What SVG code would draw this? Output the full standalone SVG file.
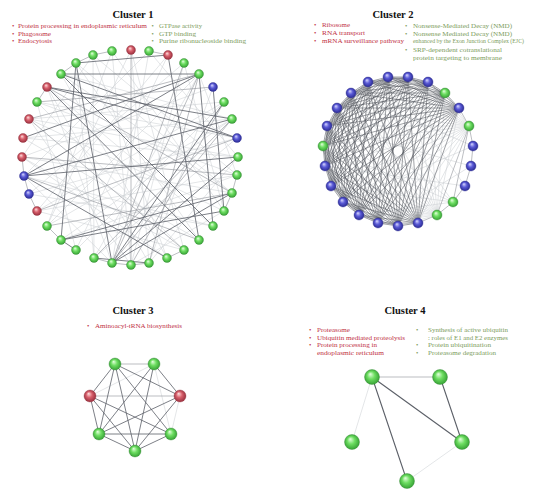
<svg xmlns="http://www.w3.org/2000/svg" width="550" height="497" viewBox="0 0 550 497">
<style>
.t{font-family:"Liberation Serif","Times New Roman",serif;font-size:6.6px}
.h{font-family:"Liberation Serif","Times New Roman",serif;font-size:10.5px;font-weight:bold;fill:#111;text-anchor:middle}
.r{fill:#c0303f}
.gr{fill:#7c9c5c}
.e1{stroke:#5c6068;stroke-width:.8;fill:none}
.e2{stroke:#8e9299;stroke-width:.6;fill:none}
.e3{stroke:#c9ccd1;stroke-width:.5;fill:none}
.ed{stroke:#50545c;stroke-width:.55;fill:none}
.ng{fill:url(#gG);stroke:#3b8e3b;stroke-width:.4}
.nb{fill:url(#gB);stroke:#34349a;stroke-width:.4}
.nr{fill:url(#gR);stroke:#9a3a44;stroke-width:.4}
</style>
<defs>
<radialGradient id="gG" cx="50%" cy="50%" r="55%" fx="38%" fy="30%"><stop offset="0" stop-color="#e6ffe0"/><stop offset=".45" stop-color="#6ede62"/><stop offset="1" stop-color="#2f9a2f"/></radialGradient>
<radialGradient id="gB" cx="50%" cy="50%" r="55%" fx="38%" fy="30%"><stop offset="0" stop-color="#d8d8ff"/><stop offset=".45" stop-color="#5a5ad6"/><stop offset="1" stop-color="#24248a"/></radialGradient>
<radialGradient id="gR" cx="50%" cy="50%" r="55%" fx="38%" fy="30%"><stop offset="0" stop-color="#ffe0e0"/><stop offset=".45" stop-color="#d8606c"/><stop offset="1" stop-color="#902838"/></radialGradient>
</defs>
<rect width="550" height="497" fill="#fff"/>

<!-- Texts -->
<g id="text1">
<text class="h" x="133" y="18">Cluster 1</text>
<text class="t r" x="12" y="28.3">•</text><text class="t r" x="18" y="28.3" textLength="129" lengthAdjust="spacingAndGlyphs">Protein processing in endoplasmic reticulum</text>
<text class="t r" x="12" y="35.7">•</text><text class="t r" x="18" y="35.7" textLength="33" lengthAdjust="spacingAndGlyphs">Phagosome</text>
<text class="t r" x="12" y="43.3">•</text><text class="t r" x="18" y="43.3" textLength="34" lengthAdjust="spacingAndGlyphs">Endocytosis</text>
<text class="t gr" x="151.5" y="28.3">•</text><text class="t gr" x="159" y="28.3" textLength="43" lengthAdjust="spacingAndGlyphs">GTPase activity</text>
<text class="t gr" x="151.5" y="35.7">•</text><text class="t gr" x="159" y="35.7" textLength="37" lengthAdjust="spacingAndGlyphs">GTP binding</text>
<text class="t gr" x="151.5" y="43.3">•</text><text class="t gr" x="159" y="43.3" textLength="87" lengthAdjust="spacingAndGlyphs">Purine ribonucleoside binding</text>
</g>
<g id="text2">
<text class="h" x="393" y="18">Cluster 2</text>
<text class="t r" x="314" y="27.3">•</text><text class="t r" x="322" y="27.3" textLength="28" lengthAdjust="spacingAndGlyphs">Ribosome</text>
<text class="t r" x="314" y="34.7">•</text><text class="t r" x="322" y="34.7" textLength="43" lengthAdjust="spacingAndGlyphs">RNA transport</text>
<text class="t r" x="314" y="42.7">•</text><text class="t r" x="322" y="42.7" textLength="82" lengthAdjust="spacingAndGlyphs">mRNA surveillance pathway</text>
<text class="t gr" x="405" y="28.3">•</text><text class="t gr" x="413" y="28.3" textLength="99" lengthAdjust="spacingAndGlyphs">Nonsense-Mediated Decay (NMD)</text>
<text class="t gr" x="405" y="35.7">•</text><text class="t gr" x="413" y="35.7" textLength="99" lengthAdjust="spacingAndGlyphs">Nonsense Mediated Decay (NMD)</text>
<text class="t gr" x="413" y="43.3" textLength="111" lengthAdjust="spacingAndGlyphs">enhanced by the Exon Junction Complex (EJC)</text>
<text class="t gr" x="405" y="52.3">•</text><text class="t gr" x="413" y="52.3" textLength="89" lengthAdjust="spacingAndGlyphs">SRP-dependent cotranslational</text>
<text class="t gr" x="413" y="60" textLength="89" lengthAdjust="spacingAndGlyphs">protein targeting to membrane</text>
</g>
<g id="text3">
<text class="h" x="133" y="314.3">Cluster 3</text>
<text class="t r" x="87" y="328.3">•</text><text class="t r" x="95" y="328.3" textLength="87" lengthAdjust="spacingAndGlyphs">Aminoacyl-tRNA biosynthesis</text>
</g>
<g id="text4">
<text class="h" x="405" y="314.3">Cluster 4</text>
<text class="t r" x="309" y="332.3">•</text><text class="t r" x="317" y="332.3" textLength="33" lengthAdjust="spacingAndGlyphs">Proteasome</text>
<text class="t r" x="309" y="340">•</text><text class="t r" x="317" y="340" textLength="88" lengthAdjust="spacingAndGlyphs">Ubiquitin mediated proteolysis</text>
<text class="t r" x="309" y="347.3">•</text><text class="t r" x="317" y="347.3" textLength="60" lengthAdjust="spacingAndGlyphs">Protein processing in</text>
<text class="t r" x="317" y="355" textLength="67" lengthAdjust="spacingAndGlyphs">endoplasmic reticulum</text>
<text class="t gr" x="416" y="332.3">•</text><text class="t gr" x="428" y="332.3" textLength="80" lengthAdjust="spacingAndGlyphs">Synthesis of active ubiquitin</text>
<text class="t gr" x="428" y="340" textLength="80" lengthAdjust="spacingAndGlyphs">: roles of E1 and E2 enzymes</text>
<text class="t gr" x="416" y="347.3">•</text><text class="t gr" x="428" y="347.3" textLength="63" lengthAdjust="spacingAndGlyphs">Protein ubiquitination</text>
<text class="t gr" x="416" y="355">•</text><text class="t gr" x="428" y="355" textLength="68" lengthAdjust="spacingAndGlyphs">Proteasome degradation</text>
</g>

<!-- Connectors -->
<g id="connectors">
<g id="edges1">
<path class="e3" d="M93,55L237,175M93,55L167,258M93,55L94,258M112,51L131,265M112,51L224,211M131,50L149,263M131,50L47,226M149,51L112,263M149,51L24,176M168,55L76,250M184,63L131,265M184,63L29,194M199,74L94,258M199,74L47,226M213,87L22,157M213,87L149,263M224,102L37,211M224,102L29,119M232,119L61,240M232,119L23,138M237,138L29,194M237,138L94,258M238,157L23,138M238,157L149,263M237,175L37,102M237,175L61,240M232,193L22,157M232,193L61,74M224,211L29,119M224,211L131,265M213,226L47,87M213,226L24,176M199,240L23,138M199,240L76,63M184,250L37,102M184,250L37,211M167,258L61,74M167,258L22,157M149,263L47,87M131,265L29,119M112,263L24,176M94,258L76,63M76,250L37,102M76,250L224,102M47,226L232,119M37,211L237,175M29,194L213,226M22,157L184,250M29,119L238,157M37,102L237,138M76,63L232,193M61,74L232,119M131,50L184,250M149,51L238,157M184,63L224,211M93,55L22,157M112,51L47,226M168,55L37,211M199,74L237,175M47,87L112,263"/>
<path class="e2" d="M112,263L184,63M112,263L199,74M112,263L232,119M131,265L224,102M149,263L199,74M94,258L232,119M184,250L29,119M199,240L24,176M37,211L237,138M47,226L232,193M37,102L213,87M29,119L199,74M22,157L237,175M131,50L131,265M47,87L232,193M76,63L93,55M61,74L76,63M47,87L37,102M37,211L29,194M29,194L24,176M24,176L22,157M237,175L232,193M232,193L224,211M131,265L149,263M112,263L131,265M94,258L112,263M184,250L167,258M61,240L47,226M93,55L112,51M149,51L168,55"/>
<path class="e1" d="M76,63L168,55M61,74L199,74M61,74L237,138M61,74L213,226M47,87L199,240M47,87L232,119M47,87L237,138M76,63L112,263M76,63L61,240M23,138L199,74M199,74L213,226M213,87L224,211M168,55L199,240M24,176L232,119M24,176L167,258M61,240L232,193M61,240L224,211M112,263L224,102M112,263L238,157M112,263L232,193M94,258L149,263M76,250L61,240M24,176L199,74M24,176L238,157"/>
</g>
<g id="edges2">
<path class="e3" d="M469,126L388,77M469,126L408,77M469,126L428,82M469,126L445,93M469,126L418,223M469,126L398,226M469,126L378,223M469,126L359,215M469,126L343,202M469,126L331,186M469,126L325,166M469,126L323,146M469,126L327,126M469,126L337,108M469,126L351,93M469,126L368,82M437,215L388,77M437,215L408,77M437,215L428,82M437,215L445,93M437,215L459,108M437,215L398,226M437,215L378,223M437,215L359,215M437,215L343,202M437,215L331,186M437,215L325,166M437,215L323,146M437,215L327,126M437,215L337,108M437,215L351,93M437,215L368,82M453,202L368,82M453,202L337,108M453,202L323,146M453,202L331,186M453,202L359,215M473,146L343,202M473,146L351,93M471,166L327,126M471,166L378,223M465,186L388,77M465,186L325,166"/>
<path class="e2" d="M459,108L469,126L473,146L471,166L465,186L453,202L437,215L418,223M469,126L437,215M469,126L453,202"/>
<polygon class="ed" points="388,77 408,77 428,82 445,93 459,108 418,223 398,226 378,223 359,215 343,202 331,186 325,166 323,146 327,126 337,108 351,93 368,82"/>
<polygon class="ed" points="388,77 428,82 459,108 398,226 359,215 331,186 323,146 337,108 368,82 408,77 445,93 418,223 378,223 343,202 325,166 327,126 351,93"/>
<polygon class="ed" points="388,77 445,93 398,226 343,202 323,146 351,93 408,77 459,108 378,223 331,186 327,126 368,82 428,82 418,223 359,215 325,166 337,108"/>
<polygon class="ed" points="388,77 459,108 359,215 323,146 368,82 445,93 378,223 325,166 351,93 428,82 398,226 331,186 337,108 408,77 418,223 343,202 327,126"/>
<polygon class="ed" points="388,77 418,223 331,186 351,93 445,93 359,215 327,126 408,77 398,226 325,166 368,82 459,108 343,202 337,108 428,82 378,223 323,146"/>
<polygon class="ed" points="388,77 398,226 323,146 408,77 378,223 327,126 428,82 359,215 337,108 445,93 343,202 351,93 459,108 331,186 368,82 418,223 325,166"/>
<polygon class="ed" points="388,77 378,223 337,108 459,108 325,166 408,77 359,215 351,93 418,223 323,146 428,82 343,202 368,82 398,226 327,126 445,93 331,186"/>
<polygon class="ed" points="388,77 359,215 368,82 378,223 351,93 398,226 337,108 418,223 327,126 459,108 323,146 445,93 325,166 428,82 331,186 408,77 343,202"/>
</g>
<g id="edges3">
<path class="e3" d="M154,364L90,396M154,364L171,434M180,396L171,434"/>
<path class="e2" d="M115,364L154,364M90,396L180,396"/>
<path class="e1" d="M115,364L90,396M115,364L180,396M115,364L171,434M115,364L135,451M115,364L99,434M154,364L99,434M154,364L135,451M154,364L180,396M90,396L99,434M90,396L135,451M90,396L171,434M180,396L99,434M180,396L135,451M99,434L171,434M99,434L135,451M135,451L171,434"/>
</g>
<g id="edges4">
<path class="e3" d="M372,377L352,442M462,442L407,481"/>
<path class="e2" d="M372,377L440,377"/>
<path class="e1" style="stroke-width:1.1" d="M372,377L462,442M372,377L407,481M440,377L462,442"/>
</g>
</g>

<!-- Cluster 1 nodes -->
<g id="c1n0"><circle class="ng" cx="93" cy="55" r="4.5"/></g>
<g id="c1n1"><circle class="ng" cx="112" cy="51" r="4.5"/></g>
<g id="c1n2"><circle class="nr" cx="131" cy="50" r="4.5"/></g>
<g id="c1n3"><circle class="ng" cx="149" cy="51" r="4.5"/></g>
<g id="c1n4"><circle class="nr" cx="168" cy="55" r="4.5"/></g>
<g id="c1n5"><circle class="ng" cx="184" cy="63" r="4.5"/></g>
<g id="c1n6"><circle class="ng" cx="199" cy="74" r="4.5"/></g>
<g id="c1n7"><circle class="nb" cx="213" cy="87" r="4.5"/></g>
<g id="c1n8"><circle class="ng" cx="224" cy="102" r="4.5"/></g>
<g id="c1n9"><circle class="ng" cx="232" cy="119" r="4.5"/></g>
<g id="c1n10"><circle class="nb" cx="237" cy="138" r="4.5"/></g>
<g id="c1n11"><circle class="ng" cx="238" cy="157" r="4.5"/></g>
<g id="c1n12"><circle class="ng" cx="237" cy="175" r="4.5"/></g>
<g id="c1n13"><circle class="ng" cx="232" cy="193" r="4.5"/></g>
<g id="c1n14"><circle class="ng" cx="224" cy="211" r="4.5"/></g>
<g id="c1n15"><circle class="ng" cx="213" cy="226" r="4.5"/></g>
<g id="c1n16"><circle class="ng" cx="199" cy="240" r="4.5"/></g>
<g id="c1n17"><circle class="ng" cx="184" cy="250" r="4.5"/></g>
<g id="c1n18"><circle class="ng" cx="167" cy="258" r="4.5"/></g>
<g id="c1n19"><circle class="ng" cx="149" cy="263" r="4.5"/></g>
<g id="c1n20"><circle class="ng" cx="131" cy="265" r="4.5"/></g>
<g id="c1n21"><circle class="ng" cx="112" cy="263" r="4.5"/></g>
<g id="c1n22"><circle class="ng" cx="94" cy="258" r="4.5"/></g>
<g id="c1n23"><circle class="ng" cx="76" cy="250" r="4.5"/></g>
<g id="c1n24"><circle class="ng" cx="61" cy="240" r="4.5"/></g>
<g id="c1n25"><circle class="ng" cx="47" cy="226" r="4.5"/></g>
<g id="c1n26"><circle class="nr" cx="37" cy="211" r="4.5"/></g>
<g id="c1n27"><circle class="nb" cx="29" cy="194" r="4.5"/></g>
<g id="c1n28"><circle class="nb" cx="24" cy="176" r="4.5"/></g>
<g id="c1n29"><circle class="nr" cx="22" cy="157" r="4.5"/></g>
<g id="c1n30"><circle class="nr" cx="23" cy="138" r="4.5"/></g>
<g id="c1n31"><circle class="nr" cx="29" cy="119" r="4.5"/></g>
<g id="c1n32"><circle class="ng" cx="37" cy="102" r="4.5"/></g>
<g id="c1n33"><circle class="nr" cx="47" cy="87" r="4.5"/></g>
<g id="c1n34"><circle class="ng" cx="61" cy="74" r="4.5"/></g>
<g id="c1n35"><circle class="ng" cx="76" cy="63" r="4.5"/></g>

<!-- Cluster 2 nodes -->
<g id="c2n0"><circle class="nb" cx="388" cy="77" r="5"/></g>
<g id="c2n1"><circle class="nb" cx="408" cy="77" r="5"/></g>
<g id="c2n2"><circle class="nb" cx="428" cy="82" r="5"/></g>
<g id="c2n3"><circle class="ng" cx="445" cy="93" r="5"/></g>
<g id="c2n4"><circle class="nb" cx="459" cy="108" r="5"/></g>
<g id="c2n5"><circle class="ng" cx="469" cy="126" r="5"/></g>
<g id="c2n6"><circle class="nb" cx="473" cy="146" r="5"/></g>
<g id="c2n7"><circle class="nb" cx="471" cy="166" r="5"/></g>
<g id="c2n8"><circle class="nb" cx="465" cy="186" r="5"/></g>
<g id="c2n9"><circle class="ng" cx="453" cy="202" r="5"/></g>
<g id="c2n10"><circle class="ng" cx="437" cy="215" r="5"/></g>
<g id="c2n11"><circle class="nb" cx="418" cy="223" r="5"/></g>
<g id="c2n12"><circle class="nb" cx="398" cy="226" r="5"/></g>
<g id="c2n13"><circle class="nb" cx="378" cy="223" r="5"/></g>
<g id="c2n14"><circle class="nb" cx="359" cy="215" r="5"/></g>
<g id="c2n15"><circle class="nb" cx="343" cy="202" r="5"/></g>
<g id="c2n16"><circle class="nb" cx="331" cy="186" r="5"/></g>
<g id="c2n17"><circle class="nb" cx="325" cy="166" r="5"/></g>
<g id="c2n18"><circle class="ng" cx="323" cy="146" r="5"/></g>
<g id="c2n19"><circle class="nb" cx="327" cy="126" r="5"/></g>
<g id="c2n20"><circle class="nb" cx="337" cy="108" r="5"/></g>
<g id="c2n21"><circle class="nb" cx="351" cy="93" r="5"/></g>
<g id="c2n22"><circle class="nb" cx="368" cy="82" r="5"/></g>

<!-- Cluster 3 nodes -->
<g id="c3n0"><circle class="ng" cx="115" cy="364" r="6"/></g>
<g id="c3n1"><circle class="ng" cx="154" cy="364" r="6"/></g>
<g id="c3n2"><circle class="nr" cx="180" cy="396" r="6"/></g>
<g id="c3n3"><circle class="ng" cx="171" cy="434" r="6"/></g>
<g id="c3n4"><circle class="ng" cx="135" cy="451" r="6"/></g>
<g id="c3n5"><circle class="ng" cx="99" cy="434" r="6"/></g>
<g id="c3n6"><circle class="nr" cx="90" cy="396" r="6"/></g>

<!-- Cluster 4 nodes -->
<g id="c4n0"><circle class="ng" cx="372" cy="377" r="7.5"/></g>
<g id="c4n1"><circle class="ng" cx="440" cy="377" r="7.5"/></g>
<g id="c4n2"><circle class="ng" cx="462" cy="442" r="7.5"/></g>
<g id="c4n3"><circle class="ng" cx="407" cy="481" r="7.5"/></g>
<g id="c4n4"><circle class="ng" cx="352" cy="442" r="7.5"/></g>
</svg>
